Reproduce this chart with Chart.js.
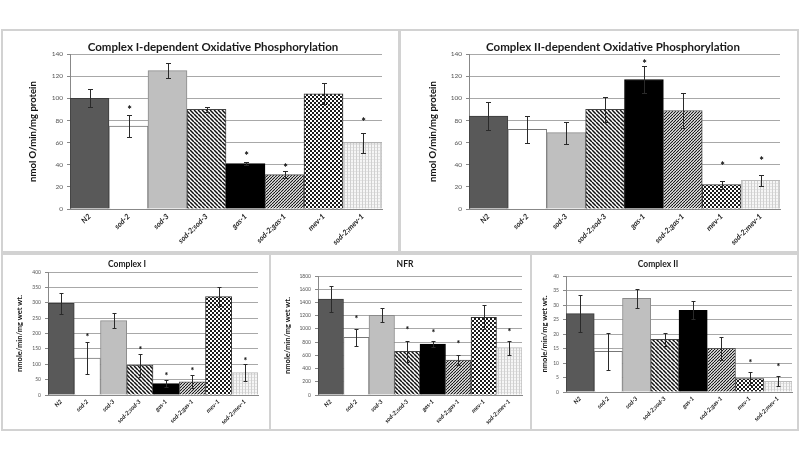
<!DOCTYPE html>
<html lang="en">
<head>
    <meta charset="UTF-8">
    <title>Oxidative Phosphorylation and Complex Activity</title>
    <script src="https://cdn.jsdelivr.net/npm/chart.js"></script>
    <style>
        body {
            margin: 0;
            width: 800px;
            height: 464px;
            position: relative;
            overflow: hidden;
            background: #fff;
        }
        .panel {
            position: absolute;
            border: 2px solid #d2d2d2;
            box-sizing: border-box;
        }
        canvas {
            position: absolute;
        }
    </style>
</head>

<body>
    <div class="panel" style="left:1px;top:29px;width:399px;height:224px"></div>
    <div class="panel" style="left:399px;top:29px;width:400px;height:224px"></div>
    <div class="panel" style="left:1px;top:253px;width:270px;height:178px"></div>
    <div class="panel" style="left:269px;top:253px;width:263px;height:178px"></div>
    <div class="panel" style="left:530px;top:253px;width:269px;height:178px"></div>

    <canvas id="oxphos1" width="397" height="222" style="left:2px;top:30px"></canvas>
    <canvas id="oxphos2" width="398" height="222" style="left:400px;top:30px"></canvas>
    <canvas id="complex1" width="268" height="176" style="left:2px;top:254px"></canvas>
    <canvas id="nfr" width="261" height="176" style="left:270px;top:254px"></canvas>
    <canvas id="complex2" width="267" height="176" style="left:531px;top:254px"></canvas>

    <script>
        // Strains (x-axis)
        var strains = ["N2", "sod-2", "sod-3", "sod-2;sod-3", "gas-1", "sod-2;gas-1", "mev-1", "sod-2;mev-1"];

        // Complex I-dependent oxidative phosphorylation (nmol O/min/mg protein)
        var oxphos1Mean = [100, 75, 125, 90, 41, 31, 104, 60];
        var oxphos1Err = [8, 10, 7, 2.5, 1.2, 3, 9.5, 9];
        var oxphos1Star = [null, 91, null, null, 50, 39, null, 80];

        // Complex II-dependent oxidative phosphorylation (nmol O/min/mg protein)
        var oxphos2Mean = [84, 72, 69, 90, 117, 89, 22, 26];
        var oxphos2Err = [13, 12, 10, 11, 12, 16, 3.5, 5];
        var oxphos2Star = [null, null, null, null, 133, null, 41, 45];

        // Complex I activity (nmole/min/mg wet wt.)
        var complex1Mean = [298, 120, 242, 97, 37, 43, 320, 73];
        var complex1Err = [34, 53, 24, 37, 11, 21, 32, 27];
        var complex1Star = [null, 196, null, 151, 68, 85, null, 118];

        // NFR activity (nmole/min/mg wet wt.)
        var nfrMean = [1450, 872, 1205, 660, 771, 529, 1175, 716];
        var nfrErr = [202, 126, 108, 157, 48, 80, 182, 108];
        var nfrStar = [null, 1175, null, 1018, 973, 797, null, 983];

        // Complex II activity (nmole/min/mg wet wt.)
        var complex2Mean = [27, 14, 32.3, 18.2, 28.2, 15.1, 4.6, 3.7];
        var complex2Err = [6.3, 6.5, 3.3, 2.3, 3.1, 3.9, 2.3, 1.8];
        var complex2Star = [null, null, null, null, null, null, 10.7, 9.3];

        var FONT = "Lato, 'Open Sans', sans-serif";

        // small pattern tiles for the hatched bars
        function tile(size, draw) {
            var c = document.createElement('canvas');
            c.width = c.height = size;
            var g = c.getContext('2d');
            draw(g, size);
            return g.createPattern(c, 'repeat');
        }
        function stripes(size, lw, forward) {
            return tile(size, function (g, s) {
                g.fillStyle = '#fff';
                g.fillRect(0, 0, s, s);
                g.strokeStyle = '#111';
                g.lineWidth = lw;
                for (var k = -1; k <= 1; k++) {
                    g.beginPath();
                    if (forward) {
                        g.moveTo(k * s, s);
                        g.lineTo(k * s + s, 0);
                    } else {
                        g.moveTo(k * s, 0);
                        g.lineTo(k * s + s, s);
                    }
                    g.stroke();
                }
            });
        }
        var checker = tile(4, function (g) {
            g.fillStyle = '#fff';
            g.fillRect(0, 0, 4, 4);
            g.fillStyle = '#1c1c1c';
            g.fillRect(0, 0, 2, 2);
            g.fillRect(2, 2, 2, 2);
        });
        var lightGrid = tile(3, function (g) {
            g.fillStyle = '#f6f6f6';
            g.fillRect(0, 0, 3, 3);
            g.fillStyle = '#d0d0d0';
            g.fillRect(0, 0, 1, 3);
            g.fillStyle = '#e3e3e3';
            g.fillRect(1, 0, 2, 1);
        });

        var barFills = ["#595959", "#ffffff", "#bfbfbf", stripes(4, 1.5, false), "#000000", stripes(3, 1.1, true), checker, lightGrid];
        var barBorders = ["#3c3c3c", "#777777", "#8a8a8a", "#444444", "#000000", "#555555", "#333333", "#bbbbbb"];

        function makeChart(id, p) {
            // error bars and asterisks
            var errorBars = {
                id: 'errorBars',
                afterDatasetsDraw: function (chart) {
                    var ctx = chart.ctx, y = chart.scales.y;
                    var meta = chart.getDatasetMeta(0);
                    ctx.save();
                    ctx.strokeStyle = '#2a2a2a';
                    ctx.lineWidth = 1;
                    meta.data.forEach(function (bar, i) {
                        var x = Math.round(bar.x) + 0.5;
                        var hi = Math.round(y.getPixelForValue(p.mean[i] + p.err[i])) + 0.5;
                        var lo = Math.round(y.getPixelForValue(p.mean[i] - p.err[i])) + 0.5;
                        ctx.beginPath();
                        ctx.moveTo(x, hi);
                        ctx.lineTo(x, lo);
                        ctx.moveTo(x - p.cap, hi);
                        ctx.lineTo(x + p.cap, hi);
                        ctx.moveTo(x - p.cap, lo);
                        ctx.lineTo(x + p.cap, lo);
                        ctx.stroke();
                        if (p.star[i] !== null) {
                            ctx.fillStyle = '#000';
                            ctx.font = 'bold ' + p.starSize + 'px ' + FONT;
                            ctx.textAlign = 'center';
                            ctx.textBaseline = 'middle';
                            ctx.fillText('*', x, y.getPixelForValue(p.star[i]) + p.starSize * 0.22);
                        }
                    });
                    ctx.restore();
                }
            };
            // panel title
            var panelTitle = {
                id: 'panelTitle',
                afterDraw: function (chart) {
                    var ctx = chart.ctx;
                    ctx.save();
                    ctx.fillStyle = '#1a1a1a';
                    ctx.font = 'bold ' + p.titleSize + 'px ' + FONT;
                    ctx.textAlign = 'center';
                    ctx.textBaseline = 'middle';
                    ctx.fillText(p.title, p.titleX, p.titleY);
                    ctx.restore();
                }
            };

            return new Chart(document.getElementById(id), {
                type: 'bar',
                data: {
                    labels: strains,
                    datasets: [{
                        data: p.mean,
                        backgroundColor: barFills,
                        borderColor: barBorders,
                        borderWidth: 1,
                        borderSkipped: 'bottom',
                        barPercentage: 1,
                        categoryPercentage: 1
                    }]
                },
                options: {
                    responsive: false,
                    animation: false,
                    events: [],
                    layout: {
                        padding: { left: 0, top: p.area.top, right: p.area.right, bottom: 0 }
                    },
                    plugins: {
                        legend: { display: false },
                        title: { display: false },
                        tooltip: { enabled: false }
                    },
                    scales: {
                        x: {
                            grid: { display: false, drawTicks: false },
                            border: { display: true, color: '#888' },
                            ticks: {
                                minRotation: 45,
                                maxRotation: 45,
                                autoSkip: false,
                                padding: 3,
                                color: '#222',
                                font: { family: FONT, size: p.labelSize, style: 'italic', weight: 'bold' }
                            },
                            afterFit: function (scale) { scale.height = p.area.bottom; }
                        },
                        y: {
                            min: 0,
                            max: p.max,
                            grid: { color: '#a8a8a8', tickLength: 3, drawTicks: true, tickColor: '#888' },
                            border: { display: true, color: '#888' },
                            ticks: {
                                stepSize: p.step,
                                padding: 4,
                                color: '#555',
                                font: { family: FONT, size: p.tickSize },
                                callback: function (v) { return String(v); }
                            },
                            title: {
                                display: true,
                                text: p.yTitle,
                                color: '#111',
                                font: { family: FONT, size: p.yTitleSize, weight: 'bold' },
                                padding: { top: p.yTitleX - p.yTitleSize * 0.6, bottom: 0 }
                            },
                            afterFit: function (scale) { scale.width = p.area.left; }
                        }
                    }
                },
                plugins: [errorBars, panelTitle]
            });
        }

        makeChart('oxphos1', {
            title: 'Complex I-dependent Oxidative Phosphorylation', titleX: 211, titleY: 17, titleSize: 11.5,
            yTitle: 'nmol O/min/mg protein', yTitleX: 31, yTitleSize: 9.5,
            mean: oxphos1Mean, err: oxphos1Err, star: oxphos1Star,
            max: 140, step: 20, tickSize: 6.5, labelSize: 7.5, cap: 2.5, starSize: 11,
            area: { left: 68, top: 24, right: 17, bottom: 43 }
        });

        makeChart('oxphos2', {
            title: 'Complex II-dependent Oxidative Phosphorylation', titleX: 213, titleY: 17, titleSize: 11.5,
            yTitle: 'nmol O/min/mg protein', yTitleX: 33, yTitleSize: 9.5,
            mean: oxphos2Mean, err: oxphos2Err, star: oxphos2Star,
            max: 140, step: 20, tickSize: 6.5, labelSize: 7.5, cap: 2.5, starSize: 11,
            area: { left: 69, top: 24, right: 18, bottom: 43 }
        });

        makeChart('complex1', {
            title: 'Complex I', titleX: 125, titleY: 10, titleSize: 8.5,
            yTitle: 'nmole/min/mg wet wt.', yTitleX: 18, yTitleSize: 7.5,
            mean: complex1Mean, err: complex1Err, star: complex1Star,
            max: 400, step: 50, tickSize: 5, labelSize: 6, cap: 2, starSize: 9,
            area: { left: 46, top: 18, right: 12, bottom: 35 }
        });

        makeChart('nfr', {
            title: 'NFR', titleX: 135, titleY: 10, titleSize: 8.5,
            yTitle: 'nmole/min/mg wet wt.', yTitleX: 18, yTitleSize: 7.5,
            mean: nfrMean, err: nfrErr, star: nfrStar,
            max: 1800, step: 200, tickSize: 5, labelSize: 6, cap: 2, starSize: 9,
            area: { left: 48, top: 22, right: 9, bottom: 35 }
        });

        makeChart('complex2', {
            title: 'Complex II', titleX: 127, titleY: 10, titleSize: 8.5,
            yTitle: 'nmole/min/mg wet wt.', yTitleX: 14, yTitleSize: 7.5,
            mean: complex2Mean, err: complex2Err, star: complex2Star,
            max: 40, step: 5, tickSize: 5, labelSize: 6, cap: 2, starSize: 9,
            area: { left: 35, top: 22, right: 6, bottom: 38 }
        });
    </script>
</body>
</html>
